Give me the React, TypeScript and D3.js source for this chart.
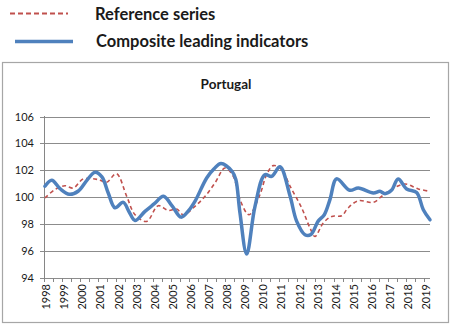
import React from "react";
import * as d3 from "d3";

const yTicks = [94, 96, 98, 100, 102, 104, 106];
const yearLabels = ["1998","1999","2000","2001","2002","2003","2004","2005","2006","2007","2008","2009","2010","2011","2012","2013","2014","2015","2016","2017","2018","2019"];

// Composite leading indicators (knots)
const cliTime = [1998.05,1998.43,1998.9,1999.4,1999.9,2000.4,2000.82,2001.2,2001.55,2001.92,2002.38,2002.7,2003.03,2003.58,2004.1,2004.6,2005.1,2005.57,2006.0,2006.34,2006.99,2007.4,2007.78,2008.4,2008.6,2008.83,2009.2,2009.66,2010.2,2010.58,2011.04,2011.6,2011.96,2012.42,2012.75,2013.15,2013.49,2013.8,2014.17,2014.9,2015.37,2016.2,2016.56,2016.84,2017.2,2017.57,2018.04,2018.59,2018.96,2019.33];
const cliValue = [100.8,101.25,100.6,100.2,100.45,101.3,101.85,101.5,100.3,99.2,99.6,98.9,98.25,98.93,99.5,100.05,99.3,98.5,99.0,99.67,101.42,102.1,102.5,101.9,101.3,98.8,95.75,99.3,101.66,101.54,102.25,100.05,98.2,97.19,97.2,98.2,98.68,99.8,101.35,100.5,100.67,100.3,100.42,100.25,100.5,101.34,100.6,100.34,99.05,98.3];

// Reference series
const refTime = [1998.05,1998.6,1999.16,1999.62,2000.17,2001.0,2001.46,2002.0,2002.57,2003.03,2003.67,2004.31,2004.87,2005.33,2005.7,2006.34,2006.9,2007.45,2008.0,2008.46,2008.83,2009.33,2009.93,2010.3,2010.67,2011.13,2011.6,2012.24,2012.7,2012.97,2013.43,2013.9,2014.45,2014.8,2015.37,2016.2,2016.66,2017.12,2017.94,2018.68,2019.33];
const refValue = [99.93,100.55,100.84,100.67,101.34,101.3,101.1,101.74,100.05,98.68,98.18,99.35,99.0,99.1,98.68,99.3,100.05,101.05,102.16,101.54,99.8,98.68,100.17,101.66,102.34,102.04,100.8,99.18,97.69,97.06,98.06,98.55,98.6,99.18,99.72,99.6,100.05,100.5,100.97,100.6,100.42];

const FONT = "Lato, 'Liberation Sans', sans-serif";

export default function App() {
  const W = 453, H = 326;
  const x = d3.scaleLinear().domain([1998, 2019.33]).range([44, 430]);
  const y = d3.scaleLinear().domain([94, 106]).range([277.5, 116.5]);

  const line = d3.line<[number, number]>()
    .x(d => x(d[0]))
    .y(d => y(d[1]))
    .curve(d3.curveCatmullRom.alpha(0.5));

  const cliPts: [number, number][] = cliTime.map((t, i) => [t, cliValue[i]]);
  const refPts: [number, number][] = refTime.map((t, i) => [t, refValue[i]]);

  const halfYears = d3.range(1998, 2019.5, 0.5);

  return (
    <svg width={W} height={H} style={{ position: "absolute", left: 0, top: 0, background: "#fff" }} fontFamily={FONT}>
      {/* Legend */}
      <line x1={10} x2={68} y1={13.5} y2={13.5} stroke="#C0504D" strokeWidth={2} strokeDasharray="5,3" />
      <text x={95} y={20} fontSize={16.5} fontWeight="bold" fill="#1a1a1a">Reference series</text>
      <line x1={15} x2={73} y1={41.5} y2={41.5} stroke="#4F81BD" strokeWidth={3.5} />
      <text x={96} y={46.5} fontSize={16.5} fontWeight="bold" fill="#1a1a1a">Composite leading indicators</text>

      {/* Chart frame */}
      <rect x={2.5} y={62.5} width={446} height={260} fill="#fff" stroke="#a6a6a6" strokeWidth={1.2} />
      <text x={226} y={89} fontSize={13.5} fontWeight="bold" textAnchor="middle" fill="#1a1a1a">Portugal</text>

      {/* Grid */}
      {yTicks.map(v => (
        <g key={v}>
          <line x1={40} x2={430} y1={Math.round(y(v)) + 0.5} y2={Math.round(y(v)) + 0.5} stroke="#8c8c8c" strokeWidth={1} />
          <text x={34} y={y(v) + 4} fontSize={11} textAnchor="end" fill="#1a1a1a">{v}</text>
        </g>
      ))}
      <line x1={44.5} x2={44.5} y1={116} y2={278} stroke="#868686" strokeWidth={1} />
      {halfYears.map(t => (
        <line key={t} x1={Math.round(x(t)) + 0.5} x2={Math.round(x(t)) + 0.5} y1={278} y2={282} stroke="#868686" strokeWidth={1} />
      ))}
      {yearLabels.map((lab) => {
        const cx = x(+lab + 0.12);
        return (
          <text key={lab} transform={`translate(${cx + 4},284) rotate(-90)`} fontSize={11} textAnchor="end" fill="#1a1a1a">{lab}</text>
        );
      })}

      {/* Series */}
      <path d={line(refPts) || ""} fill="none" stroke="#C0504D" strokeWidth={1.6} strokeDasharray="4,3" />
      <path d={line(cliPts) || ""} fill="none" stroke="#4F81BD" strokeWidth={3.5} strokeLinejoin="round" strokeLinecap="round" />
    </svg>
  );
}
